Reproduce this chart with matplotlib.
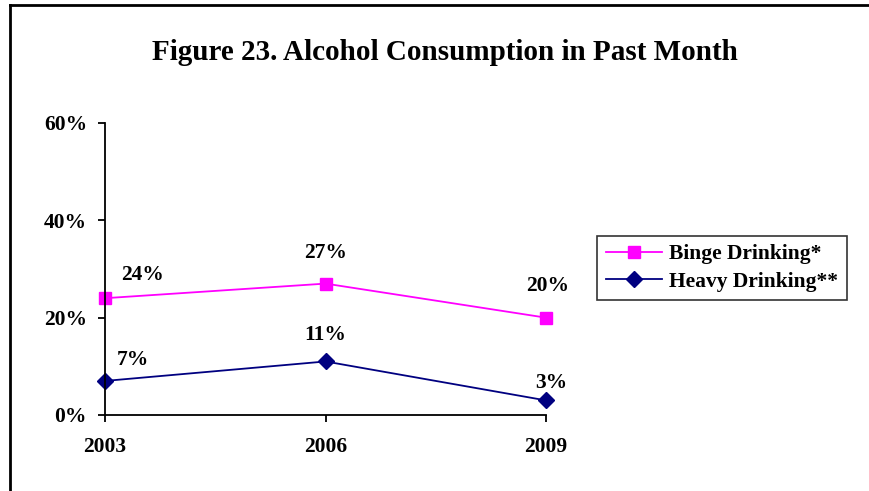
"""
Figure 23 - alcohol consumption in past month
"""
import matplotlib
matplotlib.use('Agg')
import matplotlib.pyplot as plt
from matplotlib.lines import Line2D

#----------------------------DATA---------------------------------#
years = ['2003', '2006', '2009']
binge = [24, 27, 20]
heavy = [7, 11, 3]
y_ticks = [0, 20, 40, 60]
title = 'Figure 23. Alcohol Consumption in Past Month'
#-----------------------------------------------------------------#
plt.rcParams['font.family'] = ['Liberation Serif', 'DejaVu Serif']
plt.rcParams['font.weight'] = 'bold'

W, H = 870, 491
fig = plt.figure(figsize=(W / 100, H / 100), dpi=100)
ax = fig.add_axes([105 / W, 1 - 415 / H, (546 - 105) / W, (415 - 123) / H])

x = list(range(len(years)))
ax.plot(x, binge, color='#FF00FF', lw=1.3, marker='s', ms=9, label='Binge Drinking*')
ax.plot(x, heavy, color='#000080', lw=1.3, marker='D', ms=8, label='Heavy Drinking**')

# label offsets in pixels (dx, dy)
binge_off = [(38, 23), (0, 31), (2, 32)]
heavy_off = [(28, 21), (0, 26), (5, 17)]
for vals, offs in [(binge, binge_off), (heavy, heavy_off)]:
    for i, v in enumerate(vals):
        ax.annotate('%d%%' % v, (i, v), xytext=offs[i], textcoords='offset pixels',
                    ha='center', va='center', fontsize=15.5, fontweight='bold')

ax.set_xlim(0, 2)
ax.set_ylim(0, 60)
ax.set_xticks(x)
ax.set_xticklabels(years)
ax.set_yticks(y_ticks)
ax.set_yticklabels(['%d%%' % t for t in y_ticks])
ax.tick_params(axis='both', labelsize=15.5, length=5, width=1.3, direction='out')
ax.tick_params(axis='y', pad=8)
ax.tick_params(axis='x', pad=11)
for s in ['top', 'right']:
    ax.spines[s].set_visible(False)
for s in ['left', 'bottom']:
    ax.spines[s].set_linewidth(1.3)
for ln in ax.lines:
    ln.set_clip_on(False)

fig.text(445 / W, 1 - 52 / H, title, ha='center', va='center', fontsize=21, fontweight='bold')

leg = fig.legend(loc='center left', bbox_to_anchor=(597 / W, 1 - 268 / H), fontsize=15.5,
                 frameon=True, fancybox=False, edgecolor='black', handlelength=2.6,
                 borderpad=0.4, labelspacing=0.35, handletextpad=0.35, borderaxespad=0)
leg.get_frame().set_linewidth(1.2)

# border lines on left and top
fig.add_artist(Line2D([10 / W, 10 / W], [0, 1 - 5 / H], color='black', lw=2, transform=fig.transFigure))
fig.add_artist(Line2D([10 / W, 1], [1 - 5 / H, 1 - 5 / H], color='black', lw=2, transform=fig.transFigure))

plt.savefig('out.png', dpi=100)
